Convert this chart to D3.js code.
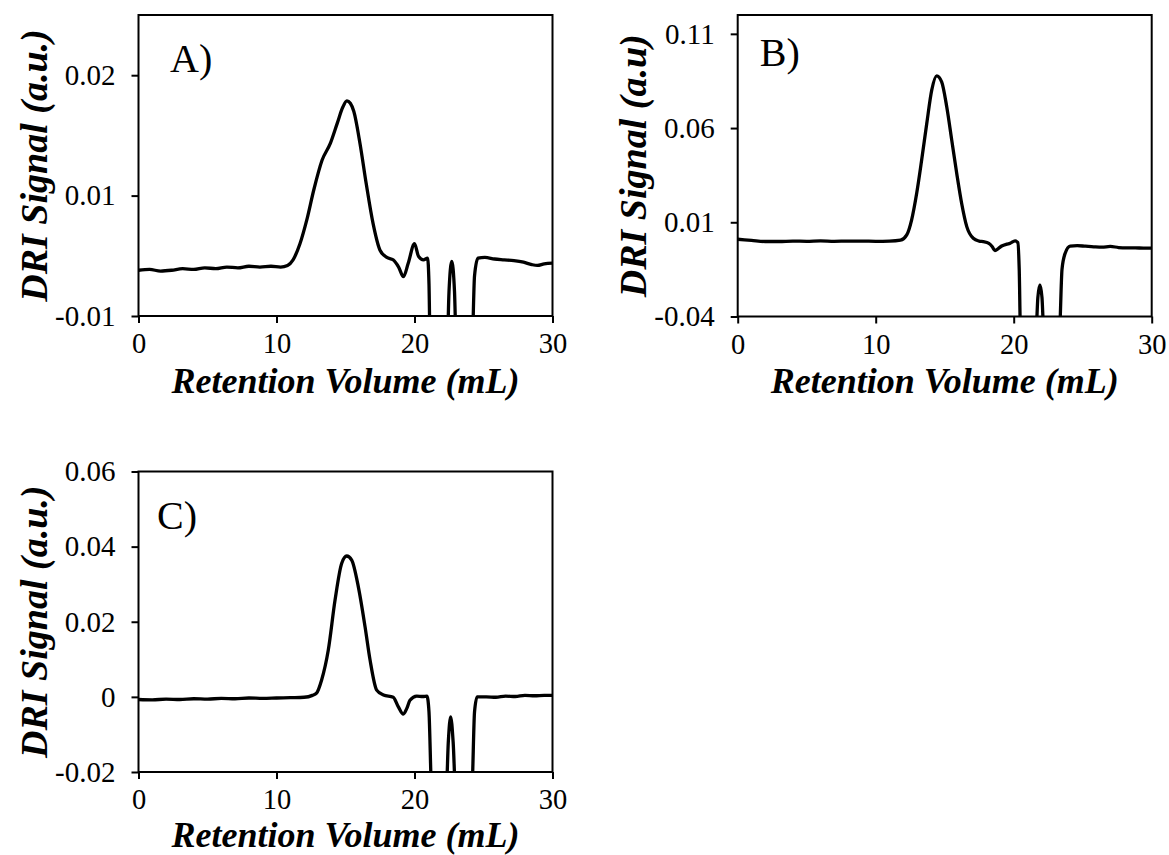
<!DOCTYPE html>
<html>
<head>
<meta charset="utf-8">
<script src="https://cdn.jsdelivr.net/npm/d3@7"></script>
<style>
  body { margin: 0; background: #fff; }
  svg { display: block; }
  text { font-family: "Liberation Serif", "Times New Roman", serif; fill: #000; }
</style>
</head>
<body>
<svg id="chart" width="1169" height="855"></svg>
<script>
// ---- DRI chromatogram traces (retention volume in mL, signal in a.u.) ----
const volumeA = [0, 0.8, 1.6, 2.4, 3.2, 4.0, 4.8, 5.6, 6.4, 7.2, 8.0, 8.8, 9.6, 10.3, 10.8, 11.2, 11.7, 12.2, 12.7, 13.3,
  13.9, 14.4, 14.8, 15.1, 15.35, 15.6, 16.05, 16.5, 17.0, 17.5, 18.0, 18.45, 18.85, 19.2, 19.55, 20.0, 20.3, 20.65, 20.95,
  21.05, 21.15, 22.35, 22.5, 22.7, 22.9, 23.05, 24.15, 24.35, 24.6, 25.1, 25.8, 26.5, 27.2, 27.9, 28.5, 28.9, 29.4, 30];
const signalA = [-0.0043, -0.0042, -0.0044, -0.0043, -0.0041, -0.0042, -0.0040, -0.0041, -0.0039, -0.0040, -0.0038,
  -0.0039, -0.0038, -0.0039, -0.0037, -0.0030, -0.0010, 0.0020, 0.0057, 0.0094, 0.0115, 0.0140, 0.0160, 0.0168, 0.0165,
  0.0155, 0.0115, 0.0065, 0.0015, -0.0018, -0.0027, -0.0030, -0.0039, -0.0051, -0.0034, -0.0010, -0.0026, -0.0030,
  -0.0028, -0.0060, -0.0150, -0.0150, -0.0070, -0.0032, -0.0070, -0.0150, -0.0150, -0.0050, -0.0028, -0.0027, -0.0029,
  -0.0030, -0.0031, -0.0033, -0.0036, -0.0037, -0.0035, -0.0034];

const volumeB = [0, 1, 2, 3, 4, 5, 6, 7, 8, 9, 10, 11, 11.8, 12.25, 12.6, 12.97, 13.33, 13.7, 14.06, 14.42, 14.78, 15.15,
  15.51, 15.87, 16.23, 16.6, 17.07, 17.5, 17.8, 18.2, 18.45, 18.64, 18.9, 19.13, 19.5, 19.73, 20.1, 20.3, 20.4, 20.5,
  21.6, 21.75, 21.9, 22.05, 22.2, 23.3, 23.5, 23.73, 24.09, 24.6, 25.2, 25.8, 26.4, 27.0, 27.6, 28.2, 28.8, 29.4, 30];
const signalB = [0.0010, 0.0004, -0.0002, -0.0002, 0.0000, -0.0001, 0.0001, -0.0001, 0.0000, 0.0000, -0.0001, 0.0000,
  0.0005, 0.0033, 0.0112, 0.0254, 0.0430, 0.0624, 0.0801, 0.0877, 0.0845, 0.0712, 0.0536, 0.0360, 0.0200, 0.0077,
  0.0015, 0.0000, -0.0003, -0.0012, -0.0030, -0.0050, -0.0038, -0.0026, -0.0016, -0.0012, 0.0001, -0.0008, -0.0150,
  -0.0500, -0.0500, -0.0300, -0.0232, -0.0300, -0.0500, -0.0500, -0.0150, -0.0064, -0.0026, -0.0024, -0.0027, -0.0030,
  -0.0032, -0.0028, -0.0034, -0.0036, -0.0036, -0.0037, -0.0037];

const volumeC = [0, 1, 2, 3, 4, 5, 6, 7, 8, 9, 10, 11, 12, 12.6, 12.9, 13.27, 13.75, 14.24, 14.72, 15.09, 15.45, 15.93,
  16.42, 16.78, 17.26, 17.75, 18.46, 18.82, 19.19, 19.45, 19.67, 20.16, 20.6, 20.9, 21.05, 21.25, 22.3, 22.45, 22.62,
  22.8, 22.98, 24.15, 24.35, 24.54, 25.2, 25.9, 26.6, 27.3, 28.0, 28.7, 29.4, 30];
const signalC = [-0.0007, -0.0008, -0.0006, -0.0007, -0.0005, -0.0006, -0.0004, -0.0005, -0.0003, -0.0004, -0.0003,
  -0.0002, -0.0001, 0.0004, 0.0010, 0.0045, 0.0124, 0.0257, 0.0355, 0.0375, 0.0364, 0.0293, 0.0186, 0.0098, 0.0018,
  0.0005, -0.0001, -0.0026, -0.0046, -0.0030, -0.0009, 0.0002, 0.0001, 0.0002, -0.0040, -0.0250, -0.0250, -0.0120,
  -0.0053, -0.0120, -0.0250, -0.0250, -0.0040, 0.0000, 0.0000, -0.0001, 0.0002, 0.0001, 0.0004, 0.0003, 0.0004, 0.0004];

// ---- axes ----
const xDomain = [0, 30];
const xTicks = [0, 10, 20, 30];
const xTickLabels = ["0", "10", "20", "30"];

const yDomainA = [-0.01, 0.0275];
const yTicksA = [-0.01, 0.005, 0.02];
const yTickLabelsA = ["-0.01", "0.01", "0.02"];

const yDomainB = [-0.04, 0.12];
const yTicksB = [-0.04, 0.01, 0.06, 0.11];
const yTickLabelsB = ["-0.04", "0.01", "0.06", "0.11"];

const yDomainC = [-0.02, 0.06];
const yTicksC = [-0.02, 0, 0.02, 0.04, 0.06];
const yTickLabelsC = ["-0.02", "0", "0.02", "0.04", "0.06"];

const panelLetters = ["A)", "B)", "C)"];
const yTitles = ["DRI Signal (a.u.)", "DRI Signal (a.u)", "DRI Signal (a.u.)"];
const xTitle = "Retention Volume (mL)";

// ---- layout ----
const panels = [
  { left: 138.5, top: 15, width: 414, height: 301, letterDx: 31.5, letterDy: 57, xTitleDy: 76.5,
    volume: volumeA, signal: signalA, yDomain: yDomainA, yTicks: yTicksA, yLabels: yTickLabelsA },
  { left: 737.7, top: 15, width: 414, height: 301.5, letterDx: 22, letterDy: 51, xTitleDy: 76.5,
    volume: volumeB, signal: signalB, yDomain: yDomainB, yTicks: yTicksB, yLabels: yTickLabelsB },
  { left: 138.5, top: 471.5, width: 414, height: 300.5, letterDx: 18.5, letterDy: 57.5, xTitleDy: 74.5,
    volume: volumeC, signal: signalC, yDomain: yDomainC, yTicks: yTicksC, yLabels: yTickLabelsC }
];

const svg = d3.select("#chart");
svg.append("rect").attr("width", 1169).attr("height", 855).attr("fill", "#fff");

panels.forEach((p, i) => {
  const g = svg.append("g").attr("transform", `translate(${p.left},${p.top})`);
  const x = d3.scaleLinear().domain(xDomain).range([0, p.width]);
  const y = d3.scaleLinear().domain(p.yDomain).range([p.height, 0]);

  const clipId = `plot-clip-${i}`;
  g.append("clipPath").attr("id", clipId)
    .append("rect").attr("width", p.width).attr("height", p.height);

  const points = p.volume.map((v, k) => [v, p.signal[k]]);
  const line = d3.line()
    .x(d => x(d[0]))
    .y(d => y(d[1]))
    .curve(d3.curveMonotoneX);

  g.append("path")
    .attr("clip-path", `url(#${clipId})`)
    .attr("d", line(points))
    .attr("fill", "none")
    .attr("stroke", "#000")
    .attr("stroke-width", 3.3)
    .attr("stroke-linejoin", "round")
    .attr("stroke-linecap", "round");

  // y axis
  const yAxis = d3.axisLeft(y)
    .tickValues(p.yTicks)
    .tickFormat((d, k) => p.yLabels[k])
    .tickSize(7)
    .tickPadding(16);
  const ya = g.append("g").call(yAxis);
  ya.select(".domain").remove();
  ya.selectAll("line").attr("stroke", "#000").attr("stroke-width", 2);
  ya.selectAll("text")
    .style("font-family", '"Liberation Serif", "Times New Roman", serif')
    .style("font-size", "29px").attr("fill", "#000");

  // x axis
  const xAxis = d3.axisBottom(x)
    .tickValues(xTicks)
    .tickFormat((d, k) => xTickLabels[k])
    .tickSize(7)
    .tickPadding(10);
  const xa = g.append("g").attr("transform", `translate(0,${p.height})`).call(xAxis);
  xa.select(".domain").remove();
  xa.selectAll("line").attr("stroke", "#000").attr("stroke-width", 2);
  xa.selectAll("text")
    .style("font-family", '"Liberation Serif", "Times New Roman", serif')
    .style("font-size", "28.5px").attr("fill", "#000");

  // plot frame
  g.append("rect")
    .attr("width", p.width).attr("height", p.height)
    .attr("fill", "none").attr("stroke", "#000").attr("stroke-width", 2);

  // panel letter
  g.append("text")
    .attr("x", p.letterDx).attr("y", p.letterDy)
    .style("font-size", "40px")
    .text(panelLetters[i]);

  // axis titles
  g.append("text")
    .attr("transform", `translate(-92,${p.height / 2}) rotate(-90)`)
    .attr("text-anchor", "middle")
    .style("font-size", "38px").style("font-weight", "bold").style("font-style", "italic")
    .text(yTitles[i]);

  g.append("text")
    .attr("x", p.width / 2).attr("y", p.height + p.xTitleDy)
    .attr("text-anchor", "middle")
    .style("font-size", "36px").style("font-weight", "bold").style("font-style", "italic")
    .text(xTitle);
});
</script>
</body>
</html>
